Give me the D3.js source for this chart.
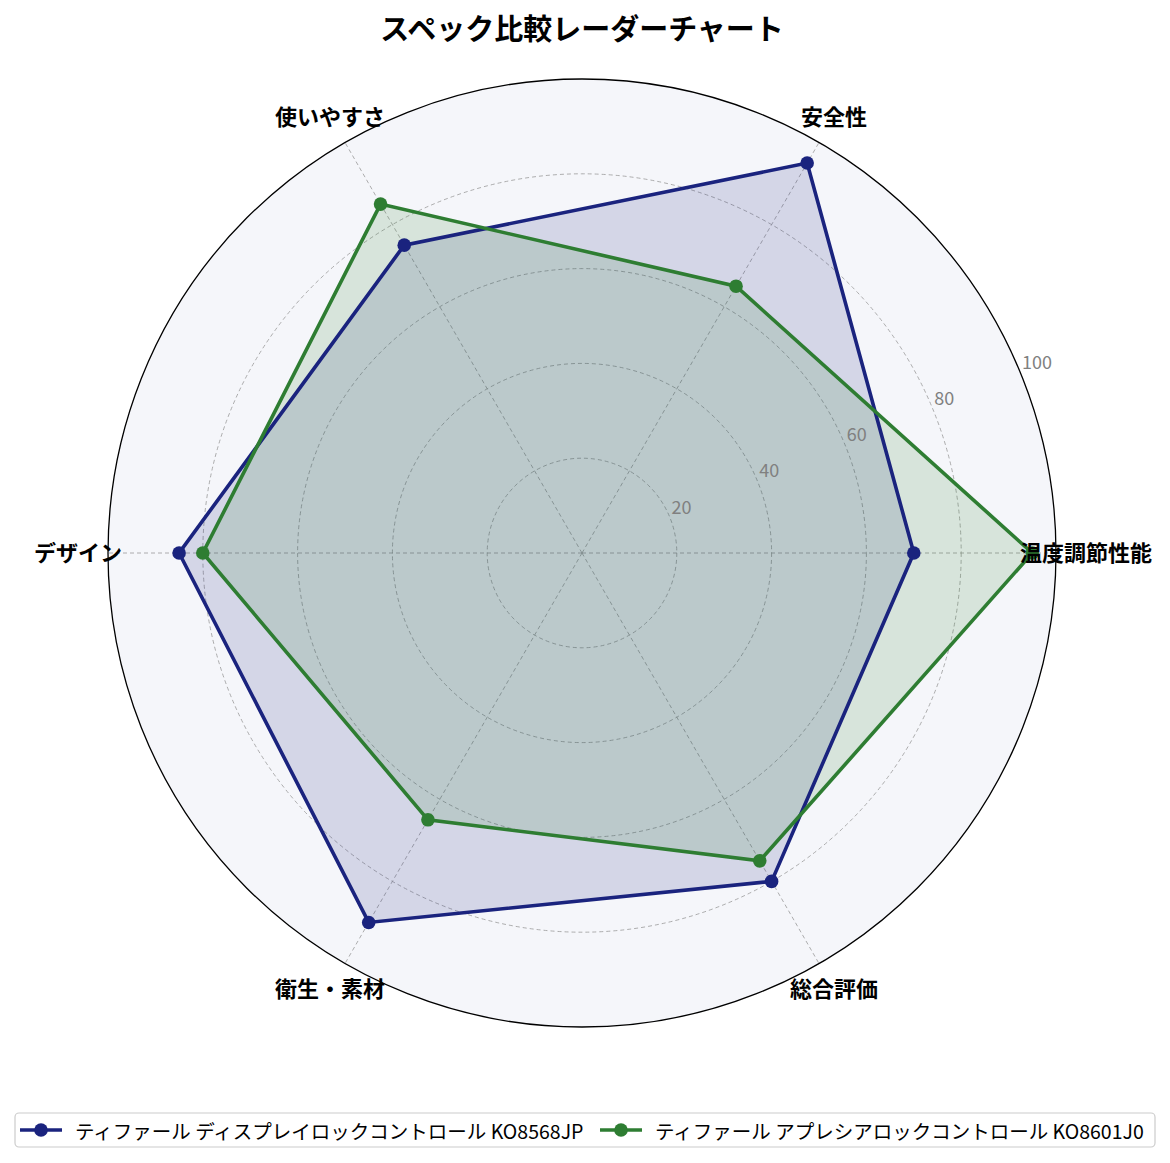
<!DOCTYPE html>
<html>
<head>
<meta charset="utf-8">
<script src="https://cdn.jsdelivr.net/npm/d3@7"></script>
<style>
  html, body { margin: 0; padding: 0; background: #ffffff; }
  svg { display: block; }
  text { font-family: "Noto Sans CJK JP", "Noto Sans", sans-serif; }
</style>
</head>
<body>
<svg id="chart" width="1170" height="1163"></svg>
<script>
const categories = ["温度調節性能", "安全性", "使いやすさ", "デザイン", "衛生・素材", "総合評価"];
const seriesNames = [
  "ティファール ディスプレイロックコントロール KO8568JP",
  "ティファール アプレシアロックコントロール KO8601J0"
];
const seriesA = [70, 95, 75, 85, 90, 80];
const seriesB = [95, 65, 85, 80, 65, 75];
const seriesColors = ["#1a237e", "#2e7d32"];
const radialTicks = [20, 40, 60, 80, 100];
const title = "スペック比較レーダーチャート";

const svg = d3.select("#chart");
const cx = 582, cy = 553, R = 474;
const r = d3.scaleLinear().domain([0, 100]).range([0, R]);
const angle = d3.scaleLinear().domain([0, categories.length]).range([0, 2 * Math.PI]);
const pt = (i, v) => {
  const a = angle(i);
  return [cx + r(v) * Math.cos(a), cy - r(v) * Math.sin(a)];
};

// background disc
svg.append("circle").attr("cx", cx).attr("cy", cy).attr("r", R)
  .attr("fill", "#f5f6fa");

// grid rings
radialTicks.slice(0, -1).forEach(t => {
  svg.append("circle").attr("cx", cx).attr("cy", cy).attr("r", r(t))
    .attr("fill", "none").attr("stroke", "#999").attr("stroke-width", 0.8)
    .attr("stroke-dasharray", "4,3");
});
// spokes
categories.forEach((c, i) => {
  const [x, y] = pt(i, 100);
  svg.append("line").attr("x1", cx).attr("y1", cy).attr("x2", x).attr("y2", y)
    .attr("stroke", "#999").attr("stroke-width", 0.8).attr("stroke-dasharray", "4,3");
});

// series
const allSeries = [seriesA, seriesB];
const line = d3.line().curve(d3.curveLinearClosed);
allSeries.forEach((vals, s) => {
  const pts = vals.map((v, i) => pt(i, v));
  svg.append("path").attr("d", line(pts))
    .attr("fill", seriesColors[s]).attr("fill-opacity", 0.15).attr("stroke", "none");
});
allSeries.forEach((vals, s) => {
  const pts = vals.map((v, i) => pt(i, v));
  svg.append("path").attr("d", line(pts))
    .attr("fill", "none").attr("stroke", seriesColors[s]).attr("stroke-width", 3.6)
    .attr("stroke-linejoin", "miter");
  svg.selectAll(null).data(pts).enter().append("circle")
    .attr("cx", d => d[0]).attr("cy", d => d[1]).attr("r", 6.8)
    .attr("fill", seriesColors[s]);
});

// outer circle
svg.append("circle").attr("cx", cx).attr("cy", cy).attr("r", R)
  .attr("fill", "none").attr("stroke", "#000").attr("stroke-width", 1.3);

// radial tick labels
const la = 22.5 * Math.PI / 180;
radialTicks.forEach(t => {
  svg.append("text")
    .attr("x", cx + r(t) * Math.cos(la) + 2)
    .attr("y", cy - r(t) * Math.sin(la) - 3)
    .attr("font-size", 18).attr("fill", "#808080")
    .text(t);
});

// category labels
categories.forEach((c, i) => {
  const a = angle(i);
  svg.append("text")
    .attr("x", cx + 504 * Math.cos(a))
    .attr("y", cy - 504 * Math.sin(a) - 2)
    .attr("text-anchor", "middle").attr("dominant-baseline", "central")
    .attr("font-size", 22).attr("font-weight", "bold").attr("fill", "#000")
    .text(c);
});

// title
svg.append("text").attr("x", 582).attr("y", 27)
  .attr("text-anchor", "middle").attr("dominant-baseline", "central")
  .attr("font-size", 29).attr("font-weight", "bold").text(title);

// legend
const lg = svg.append("g");
lg.append("rect").attr("x", 15).attr("y", 1113).attr("width", 1140).attr("height", 34)
  .attr("rx", 4).attr("fill", "#fff").attr("stroke", "#ccc").attr("stroke-width", 1.2);
const legendX = [20, 600];
seriesNames.forEach((n, s) => {
  const x0 = legendX[s], y0 = 1130;
  lg.append("line").attr("x1", x0).attr("x2", x0 + 42).attr("y1", y0).attr("y2", y0)
    .attr("stroke", seriesColors[s]).attr("stroke-width", 3.6);
  lg.append("circle").attr("cx", x0 + 21).attr("cy", y0).attr("r", 6.8).attr("fill", seriesColors[s]);
  lg.append("text").attr("x", x0 + 55).attr("y", y0)
    .attr("dominant-baseline", "central").attr("font-size", 19.5).attr("fill", "#000")
    .text(n);
});
</script>
</body>
</html>
